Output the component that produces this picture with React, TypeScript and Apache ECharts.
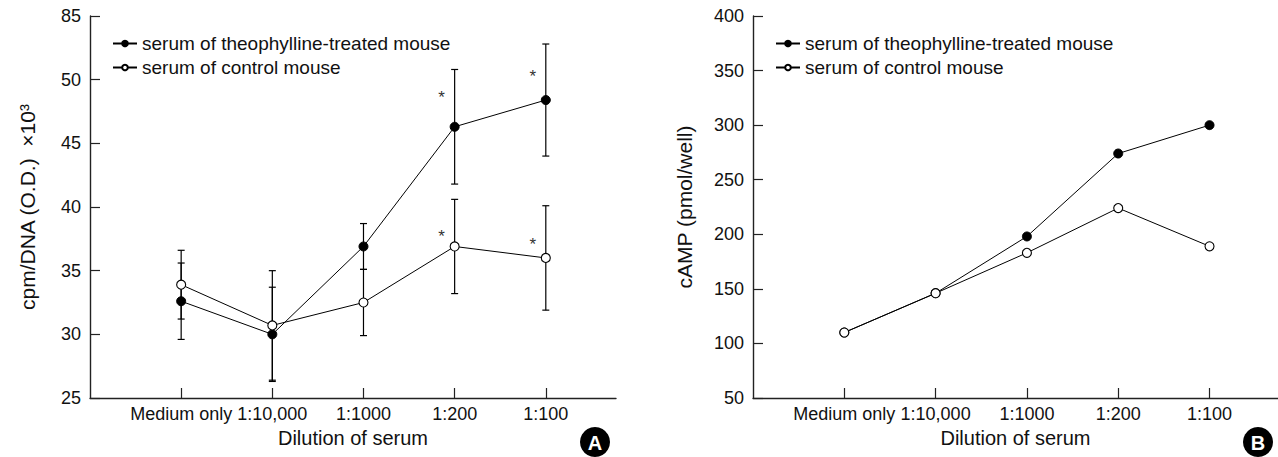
import React, { useEffect, useRef } from "react";
import * as echarts from "echarts";

// ---- data ----
const categories = ["Medium only", "1:10,000", "1:1000", "1:200", "1:100"];
const categoryPositions = [1, 2, 3, 4, 5];

// Panel A: cpm/DNA (O.D.) x10^3
const theoA = [32.6, 30.0, 36.9, 46.3, 48.4];
const theoAErr = [3.0, 3.7, 1.8, 4.5, 4.4];
const ctrlA = [33.9, 30.7, 32.5, 36.9, 36.0];
const ctrlAErr = [2.7, 4.3, 2.6, 3.7, 4.1];
const yTickValuesA = [25, 30, 35, 40, 45, 50, 55];
const yTickLabelsA = ["25", "30", "35", "40", "45", "50", "85"]; // broken axis: top tick reads 85
// significance marks (category position, y value)
const starCatA = [4, 5, 4, 5];
const starYA = [48.95, 50.6, 37.96, 37.33];

// Panel B: cAMP (pmol/well)
const theoB = [110, 146, 198, 274, 300];
const ctrlB = [110, 146, 183, 224, 189];

const nameTheo = "serum of theophylline-treated mouse";
const nameCtrl = "serum of control mouse";

const FONT = "Liberation Sans, Arial, Helvetica, sans-serif";
const INK = "#111";

export default function App() {
  const ref = useRef<HTMLDivElement>(null);

  useEffect(() => {
    if (!ref.current) return;
    const chart = echarts.init(ref.current, null, { renderer: "svg" });

    const xAxisBase = (gridIndex: number, max: number) => ({
      type: "value",
      gridIndex,
      min: 0,
      max,
      interval: 1,
      name: "Dilution of serum",
      nameLocation: "middle",
      nameGap: 30,
      nameTextStyle: { fontFamily: FONT, fontSize: 20, color: INK },
      splitLine: { show: false },
      axisLine: { show: true, lineStyle: { color: "#222", width: 1.4 } },
      axisTick: {
        show: true,
        inside: true,
        length: 10,
        customValues: categoryPositions,
        lineStyle: { color: "#222", width: 1.2 },
      },
      axisLabel: {
        show: true,
        customValues: categoryPositions,
        formatter: (v: number) => categories[Math.round(v) - 1] ?? "",
        margin: 7,
        fontFamily: FONT,
        fontSize: 18,
        color: INK,
      },
    });

    const errData = (vals: number[], errs: number[]) =>
      vals.map((v, i) => [categoryPositions[i], v - errs[i], v + errs[i]]);

    const errSeries = (vals: number[], errs: number[]) => ({
      type: "custom",
      xAxisIndex: 0,
      yAxisIndex: 0,
      z: 1,
      silent: true,
      encode: { x: 0, y: [1, 2] },
      data: errData(vals, errs),
      renderItem: (params: any, api: any) => {
        const x = api.value(0);
        const lo = api.coord([x, api.value(1)]);
        const hi = api.coord([x, api.value(2)]);
        const w = 3.5;
        const st = { stroke: "#000", lineWidth: 1.2 };
        return {
          type: "group",
          children: [
            { type: "line", shape: { x1: lo[0], y1: lo[1], x2: hi[0], y2: hi[1] }, style: st },
            { type: "line", shape: { x1: lo[0] - w, y1: lo[1], x2: lo[0] + w, y2: lo[1] }, style: st },
            { type: "line", shape: { x1: hi[0] - w, y1: hi[1], x2: hi[0] + w, y2: hi[1] }, style: st },
          ],
        };
      },
    });

    const starSeries = {
      type: "custom",
      xAxisIndex: 0,
      yAxisIndex: 0,
      z: 3,
      silent: true,
      encode: { x: 0, y: 1 },
      data: starCatA.map((c, i) => [c, starYA[i]]),
      renderItem: (params: any, api: any) => {
        const p = api.coord([api.value(0), api.value(1)]);
        return {
          type: "text",
          x: p[0] - 13,
          y: p[1] + 4,
          style: {
            text: "*",
            fontFamily: FONT,
            fontSize: 17,
            fill: "#333",
            align: "center",
            verticalAlign: "middle",
          },
        };
      },
    };

    const lineTheo = (xi: number, vals: number[]) => ({
      type: "line",
      name: nameTheo,
      xAxisIndex: xi,
      yAxisIndex: xi,
      z: 2,
      data: vals.map((v, i) => [categoryPositions[i], v]),
      symbol: "circle",
      symbolSize: 9,
      lineStyle: { color: "#000", width: 1 },
      itemStyle: { color: "#000", borderColor: "#000", borderWidth: 1 },
    });
    const lineCtrl = (xi: number, vals: number[]) => ({
      type: "line",
      name: nameCtrl,
      xAxisIndex: xi,
      yAxisIndex: xi,
      z: 2,
      data: vals.map((v, i) => [categoryPositions[i], v]),
      symbol: "circle",
      symbolSize: 9,
      lineStyle: { color: "#000", width: 1 },
      itemStyle: { color: "#fff", borderColor: "#000", borderWidth: 1.1 },
    });

    const legendBase = (left: number) => ({
      left,
      top: 34,
      padding: 0,
      orient: "vertical",
      itemWidth: 24,
      itemHeight: 7,
      itemGap: 5,
      selectedMode: false,
      data: [nameTheo, nameCtrl],
      textStyle: { fontFamily: FONT, fontSize: 19, color: INK, lineHeight: 18, padding: [0, 0, 0, 0] },
    });

    const badge = (cx: number, cy: number, letter: string) => ({
      type: "group",
      children: [
        { type: "circle", shape: { cx, cy, r: 15 }, style: { fill: "#000" } },
        {
          type: "text",
          x: cx,
          y: cy + 1,
          style: {
            text: letter,
            fontFamily: FONT,
            fontWeight: "bold",
            fontSize: 20,
            fill: "#fff",
            align: "center",
            verticalAlign: "middle",
          },
        },
      ],
    });

    chart.setOption({
      animation: false,
      backgroundColor: "#fff",
      textStyle: { fontFamily: FONT },
      grid: [
        { left: 90, top: 16, width: 526, height: 382, containLabel: false },
        { left: 753, top: 16, width: 525, height: 382, containLabel: false },
      ],
      legend: [legendBase(112), legendBase(775)],
      xAxis: [xAxisBase(0, 5.77), xAxisBase(1, 5.75)],
      yAxis: [
        {
          type: "value",
          gridIndex: 0,
          min: 25,
          max: 55,
          interval: 5,
          name: "cpm/DNA (O.D.)  ×10³",
          nameLocation: "middle",
          nameGap: 52,
          nameTextStyle: { fontFamily: FONT, fontSize: 21, color: INK },
          splitLine: { show: false },
          axisLine: { show: true, lineStyle: { color: "#222", width: 1.4 } },
          axisTick: { show: true, inside: true, length: 10, lineStyle: { color: "#222", width: 1.2 } },
          axisLabel: {
            margin: 9,
            fontFamily: FONT,
            fontSize: 18,
            color: INK,
            formatter: (v: number) => {
              const i = yTickValuesA.indexOf(v);
              return i >= 0 ? yTickLabelsA[i] : "";
            },
          },
        },
        {
          type: "value",
          gridIndex: 1,
          min: 50,
          max: 400,
          interval: 50,
          name: "cAMP (pmol/well)",
          nameLocation: "middle",
          nameGap: 58,
          nameTextStyle: { fontFamily: FONT, fontSize: 21, color: INK },
          splitLine: { show: false },
          axisLine: { show: true, lineStyle: { color: "#222", width: 1.4 } },
          axisTick: { show: true, inside: true, length: 10, lineStyle: { color: "#222", width: 1.2 } },
          axisLabel: { margin: 9, fontFamily: FONT, fontSize: 18, color: INK },
        },
      ],
      series: [
        errSeries(theoA, theoAErr),
        errSeries(ctrlA, ctrlAErr),
        lineTheo(0, theoA),
        lineCtrl(0, ctrlA),
        starSeries,
        lineTheo(1, theoB),
        lineCtrl(1, ctrlB),
      ],
      graphic: [badge(595, 442, "A"), badge(1258, 442, "B")],
    });

    return () => chart.dispose();
  }, []);

  return (
    <div
      ref={ref}
      style={{ position: "fixed", left: 0, top: 0, width: 1278, height: 457, background: "#fff" }}
    />
  );
}
